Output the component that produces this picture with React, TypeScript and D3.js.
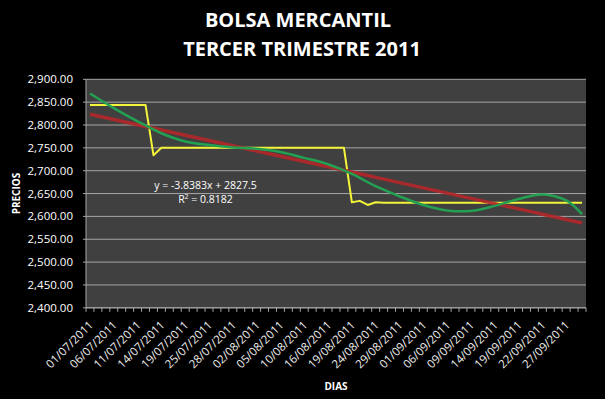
import { format, line, curveCatmullRom, scaleBand, scaleLinear } from "d3";

const dates = [
  "01/07/2011", "04/07/2011", "05/07/2011", "06/07/2011", "07/07/2011", "08/07/2011",
  "11/07/2011", "12/07/2011", "13/07/2011", "14/07/2011", "15/07/2011", "18/07/2011",
  "19/07/2011", "21/07/2011", "22/07/2011", "25/07/2011", "26/07/2011", "27/07/2011",
  "28/07/2011", "29/07/2011", "01/08/2011", "02/08/2011", "03/08/2011", "04/08/2011",
  "05/08/2011", "08/08/2011", "09/08/2011", "10/08/2011", "11/08/2011", "12/08/2011",
  "16/08/2011", "17/08/2011", "18/08/2011", "19/08/2011", "22/08/2011", "23/08/2011",
  "24/08/2011", "25/08/2011", "26/08/2011", "29/08/2011", "30/08/2011", "31/08/2011",
  "01/09/2011", "02/09/2011", "05/09/2011", "06/09/2011", "07/09/2011", "08/09/2011",
  "09/09/2011", "12/09/2011", "13/09/2011", "14/09/2011", "15/09/2011", "16/09/2011",
  "19/09/2011", "20/09/2011", "21/09/2011", "22/09/2011", "23/09/2011", "26/09/2011",
  "27/09/2011", "28/09/2011", "29/09/2011",
];

const prices = [
  2844, 2844, 2844, 2844, 2844, 2844, 2844, 2844,
  2734,
  2750, 2750, 2750, 2750, 2750, 2750, 2750, 2750, 2750, 2750, 2750, 2750,
  2750, 2750, 2750, 2750, 2750, 2750, 2750, 2750, 2750, 2750, 2750, 2750,
  2631, 2634, 2625, 2631,
  2630, 2630, 2630, 2630, 2630, 2630, 2630, 2630, 2630, 2630, 2630, 2630, 2630,
  2630, 2630, 2630, 2630, 2630, 2630, 2630, 2630, 2630, 2630, 2630, 2630, 2630,
];

// polynomial trend at the labelled days
const polyDays = [0, 3, 6, 9, 12, 15, 18, 21, 24, 27, 30, 33, 36, 39, 42, 45, 48, 51, 54, 57, 60, 62];
const polyValues = [
  2869, 2837, 2808, 2782, 2764, 2756, 2751, 2748, 2741, 2728, 2714,
  2693, 2666, 2644, 2625, 2613, 2612, 2623, 2638, 2648, 2635, 2605,
];

const trendSlope = -3.8383;
const trendIntercept = 2827.5;

const yTicks = [2400, 2450, 2500, 2550, 2600, 2650, 2700, 2750, 2800, 2850, 2900];

const font = "'Open Sans', Arial, sans-serif";

export default function App() {
  const width = 605;
  const height = 399;
  const left = 86;
  const right = 586;
  const top = 79.3;
  const bottom = 307.8;

  const x = scaleBand().domain(dates).range([left, right]).padding(0);
  const bw = x.bandwidth();
  const cx = (i: number) => (x(dates[i]) ?? 0) + bw / 2;
  const y = scaleLinear().domain([2400, 2900]).range([bottom, top]);
  const fmt = format(",.2f");

  const priceLine = line<number>()
    .x((_, i) => cx(i))
    .y((d) => y(d));

  const trendLine = line<number>()
    .x((n) => cx(n - 1))
    .y((n) => y(trendIntercept + trendSlope * n));

  const polyLine = line<number>()
    .x((d) => cx(d))
    .y((_, i) => y(polyValues[i]))
    .curve(curveCatmullRom.alpha(0.5));

  return (
    <div style={{ position: "absolute", left: 0, top: 0 }}>
      <svg width={width} height={height} style={{ display: "block", background: "#000" }}>
        <rect width={width} height={height} fill="#000" />
        <text x={298} y={27} textAnchor="middle" fill="#fff" fontFamily={font} fontWeight="700" fontSize="20">
          BOLSA MERCANTIL
        </text>
        <text x={302} y={56} textAnchor="middle" fill="#fff" fontFamily={font} fontWeight="700" fontSize="20">
          TERCER TRIMESTRE 2011
        </text>

        <rect x={left} y={top} width={right - left} height={bottom - top} fill="#404040" />

        {yTicks.map((t) => (
          <g key={t}>
            <line x1={left - 3} x2={right} y1={y(t)} y2={y(t)} stroke="#a6a6a6" strokeWidth="1" />
            <text
              x={73}
              y={y(t)}
              dy="0.35em"
              textAnchor="end"
              fill="#fff"
              fontFamily={font}
              fontSize="11.5"
            >
              {fmt(t)}
            </text>
          </g>
        ))}

        <line x1={left} x2={left} y1={top} y2={bottom} stroke="#a6a6a6" strokeWidth="1" />
        <line x1={left} x2={right} y1={bottom} y2={bottom} stroke="#a6a6a6" strokeWidth="1" />
        {[...dates.map((d) => x(d) ?? 0), right].map((tx, i) => (
          <line key={i} x1={tx} x2={tx} y1={bottom} y2={bottom + 4} stroke="#a6a6a6" strokeWidth="1" />
        ))}

        {dates.map((d, i) =>
          i % 3 === 0 ? (
            <text
              key={d}
              transform={`translate(${cx(i) + 4}, ${bottom + 18}) rotate(-45)`}
              textAnchor="end"
              fill="#eee"
              fontFamily={font}
              fontSize="11.5"
            >
              {d}
            </text>
          ) : null
        )}

        <path d={priceLine(prices) ?? ""} fill="none" stroke="#f4f43a" strokeWidth="2" strokeLinejoin="round" />
        <path
          d={trendLine(dates.map((_, i) => i + 1)) ?? ""}
          fill="none"
          stroke="#b3272a"
          strokeWidth="3.5"
          strokeOpacity="0.9"
        />
        <path d={polyLine(polyDays) ?? ""} fill="none" stroke="#24a052" strokeWidth="2.5" />

        <text x={205.5} y={189} textAnchor="middle" fill="#fff" fontFamily={font} fontSize="10.5">
          y = -3.8383x + 2827.5
        </text>
        <text x={205.5} y={203} textAnchor="middle" fill="#fff" fontFamily={font} fontSize="10.5">
          R<tspan dy="-4" fontSize="7">2</tspan>
          <tspan dy="4"> = 0.8182</tspan>
        </text>

        <text
          transform={`translate(20, ${(top + bottom) / 2}) rotate(-90)`}
          textAnchor="middle"
          fill="#fff"
          fontFamily={font}
          fontWeight="700"
          fontSize="10"
        >
          PRECIOS
        </text>
        <text x={(left + right) / 2} y={390} textAnchor="middle" fill="#fff" fontFamily={font} fontWeight="700" fontSize="10">
          DIAS
        </text>
      </svg>
    </div>
  );
}
